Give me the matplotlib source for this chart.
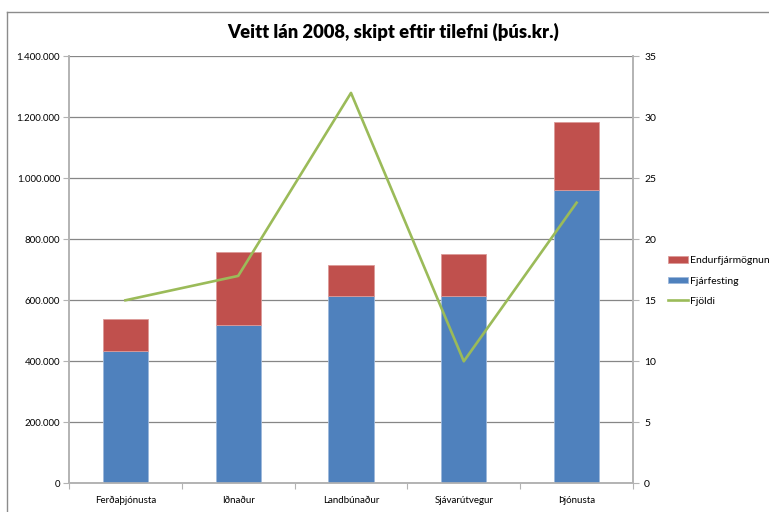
import numpy as np
import matplotlib
matplotlib.use("Agg")
import matplotlib.pyplot as plt
from matplotlib.ticker import FuncFormatter, FixedLocator
from matplotlib.lines import Line2D

plt.rcParams['font.family'] = ['Lato', 'DejaVu Sans']

# data (þús.kr.)
categories = ['Ferðaþjónusta', 'Iðnaður', 'Landbúnaður', 'Sjávarútvegur', 'Þjónusta']
fjarfesting = [435000, 518000, 614000, 613000, 961000]
endurfjarmognun = [103000, 241000, 101000, 139000, 223000]
fjoldi = [15, 17, 32, 10, 23]

blue = '#4F81BD'
red = '#C0504D'
green = '#9BBB59'
grid_col = '#868686'
axis_col = '#B3B3B3'

fig = plt.figure(figsize=(7.69, 5.12), dpi=100)
ax = fig.add_axes([69 / 769, 1 - 483.3 / 512, (633 - 69) / 769, (483.3 - 56.3) / 512])

x = np.arange(len(categories))
b1 = ax.bar(x, fjarfesting, width=0.4, color=blue, edgecolor='#9DB8DB', linewidth=0.6, zorder=3)
b2 = ax.bar(x, endurfjarmognun, width=0.4, bottom=fjarfesting, color=red,
            edgecolor='#DC9A98', linewidth=0.6, zorder=3)

ax.set_xlim(-0.5, len(categories) - 0.5)
ax.set_ylim(0, 1400000)
ax.set_yticks(np.arange(0, 1400001, 200000))
ax.yaxis.set_major_formatter(FuncFormatter(lambda v, p: '{:,.0f}'.format(v).replace(',', '.')))
ax.grid(axis='y', color=grid_col, linewidth=0.9, zorder=0)

# category ticks at boundaries, labels in the middle
ax.xaxis.set_major_locator(FixedLocator(np.arange(-0.5, len(categories), 1.0)))
ax.xaxis.set_major_formatter(FuncFormatter(lambda v, p: ''))
ax.xaxis.set_minor_locator(FixedLocator(x))
ax.set_xticklabels(categories, minor=True)
ax.tick_params(axis='x', which='minor', length=0, pad=9, labelsize=7)
ax.tick_params(axis='x', which='major', length=4, color=axis_col)
ax.tick_params(axis='y', length=4, color=axis_col, labelsize=7, pad=2.5)

ax.spines['top'].set_visible(False)
for s in ['left', 'bottom', 'right']:
    ax.spines[s].set_color(axis_col)
    ax.spines[s].set_linewidth(1.2)

ax2 = ax.twinx()
ln, = ax2.plot(x, fjoldi, color=green, linewidth=1.9, zorder=4)
ax2.set_ylim(0, 35)
ax2.set_yticks(np.arange(0, 36, 5))
ax2.tick_params(axis='y', length=4, color=axis_col, labelsize=7.5, pad=4)
ax2.spines['top'].set_visible(False)
for s in ['left', 'bottom', 'right']:
    ax2.spines[s].set_color(axis_col)
    ax2.spines[s].set_linewidth(1.2)

fig.text(393 / 769, 1 - 32 / 512, 'Veitt lán 2008, skipt eftir tilefni (þús.kr.)',
         ha='center', va='center', fontsize=13.2, fontweight='heavy')

handles = [b2, b1, Line2D([], [], color=green, linewidth=1.9)]
labels = ['Endurfjármögnun', 'Fjárfesting', 'Fjöldi']
fig.legend(handles, labels, loc='center left', bbox_to_anchor=(664 / 769, 1 - 281 / 512),
           frameon=False, fontsize=7.5, handlelength=1.9, handleheight=0.6,
           handletextpad=0.2, labelspacing=1.1, borderaxespad=0)

# chart area border (only left and top visible in the crop)
fig.add_artist(Line2D([6.5 / 769, 6.5 / 769], [0, 1 - 12 / 512], color='#8C8C8C', linewidth=1.0))
fig.add_artist(Line2D([6.5 / 769, 1], [1 - 12 / 512, 1 - 12 / 512], color='#8C8C8C', linewidth=1.0))

fig.savefig('out.png', dpi=100)
